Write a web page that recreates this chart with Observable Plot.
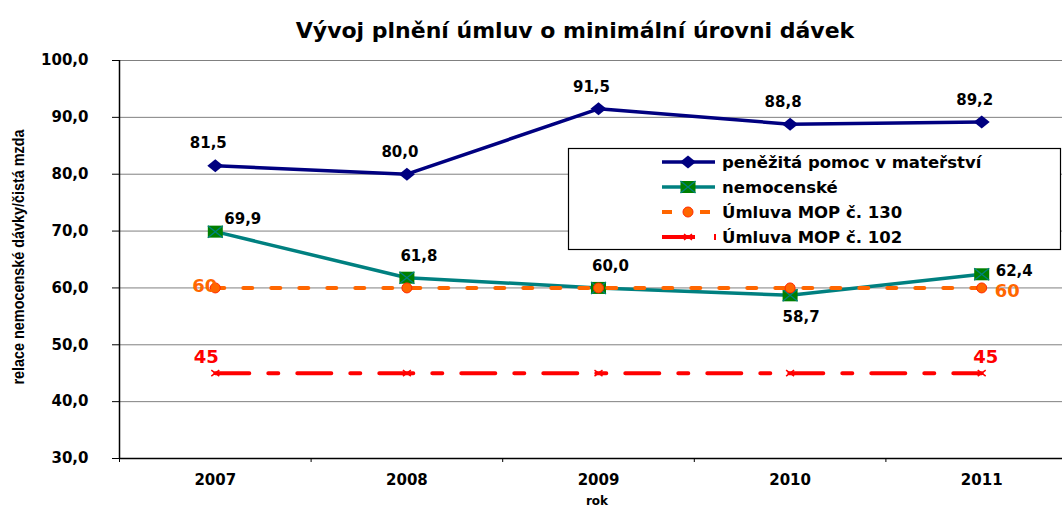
<!DOCTYPE html>
<html><head><meta charset="utf-8">
<script src="https://cdn.jsdelivr.net/npm/d3@7"></script>
<script src="https://cdn.jsdelivr.net/npm/@observablehq/plot@0.6"></script>
<style>
html,body{margin:0;padding:0;background:#fff;overflow:hidden}
</style></head><body><div id="chart"></div>
<script>
const years = [2007, 2008, 2009, 2010, 2011];
const penezita = [81.5, 80.0, 91.5, 88.8, 89.2];
const nemocenske = [69.9, 61.8, 60.0, 58.7, 62.4];
const mop130 = [60, 60, 60, 60, 60];
const mop102 = [45, 45, 45, 45, 45];
const yTicks = [30, 40, 50, 60, 70, 80, 90, 100];
const seriesNames = ["peněžitá pomoc v mateřství", "nemocenské", "Úmluva MOP č. 130", "Úmluva MOP č. 102"];
const title = "Vývoj plnění úmluv o minimální úrovni dávek";
const yLabel = "relace nemocenské dávky/čistá mzda";
const xLabel = "rok";

const rows = years.map((year, i) => ({year, pen: penezita[i], nem: nemocenske[i], m130: mop130[i], m102: mop102[i]}));
const boundaries = [years[0] - 0.5, ...years.map(y => y + 0.5)];
const fmt = v => v.toFixed(1).replace(".", ",");

const FONT = "DejaVu Sans, Verdana, sans-serif";
const NAVY = "#000080", TEAL = "#008080", GREEN = "#008000", ORANGE = "#FF6600", RED = "#FF0000";

const wideDiamond = {draw(ctx) { ctx.moveTo(-8, 0); ctx.lineTo(0, -6.5); ctx.lineTo(8, 0); ctx.lineTo(0, 6.5); ctx.closePath(); }};
const rectSym = {draw(ctx) { ctx.moveTo(-7.5, -6); ctx.lineTo(7.5, -6); ctx.lineTo(7.5, 6); ctx.lineTo(-7.5, 6); ctx.closePath(); }};
const rectCross = {draw(ctx) { ctx.moveTo(-7.5, -6); ctx.lineTo(7.5, 6); ctx.moveTo(7.5, -6); ctx.lineTo(-7.5, 6); }};
const xSym = {draw(ctx) { ctx.moveTo(-4, -3); ctx.lineTo(4, 3); ctx.moveTo(4, -3); ctx.lineTo(-4, 3); }};

const first = rows.filter((d, i) => i === 0);
const last = rows.filter((d, i) => i === rows.length - 1);
const lbl = {fill: "black", fontSize: 15, fontWeight: "bold", fontFamily: FONT};

const plot = Plot.plot({
  width: 1062,
  height: 506,
  marginTop: 60,
  marginBottom: 48,
  marginLeft: 119,
  marginRight: 0,
  style: {fontFamily: FONT, background: "white", overflow: "hidden"},
  x: {domain: [boundaries[0], boundaries[boundaries.length - 1]], range: [119, 1077]},
  y: {domain: [30, 100]},
  marks: [
    Plot.ruleY(yTicks.filter(d => d > 30), {stroke: "#808080", strokeWidth: 1}),
    Plot.ruleY([30], {stroke: "black", strokeWidth: 1.5}),
    Plot.ruleX([boundaries[0]], {stroke: "black", strokeWidth: 1.5}),
    Plot.axisY({ticks: yTicks, tickSize: 7, tickPadding: 24, tickFormat: fmt, fontSize: 15, fontWeight: "bold", stroke: "black", label: null}),
    Plot.axisX({ticks: years, tickSize: 0, tickPadding: 16, tickFormat: d => String(d), fontSize: 15, fontWeight: "bold", label: null}),
    Plot.axisX({ticks: boundaries, tickSize: 4, tickFormat: () => "", label: null}),
    // series lines
    Plot.line(rows, {x: "year", y: "pen", stroke: NAVY, strokeWidth: 3.5}),
    Plot.dot(rows, {x: "year", y: "pen", symbol: wideDiamond, fill: NAVY, r: 6}),
    Plot.line(rows, {x: "year", y: "nem", stroke: TEAL, strokeWidth: 3.5}),
    Plot.dot(rows, {x: "year", y: "nem", symbol: rectSym, fill: GREEN, r: 6}),
    Plot.dot(rows, {x: "year", y: "nem", symbol: rectCross, stroke: TEAL, strokeWidth: 1.3, r: 6}),
    Plot.line(rows, {x: "year", y: "m130", stroke: ORANGE, strokeWidth: 4, strokeDasharray: "9,19"}),
    Plot.dot(rows, {x: "year", y: "m130", symbol: "circle", r: 5, fill: ORANGE, stroke: "#FF2A00", strokeWidth: 1}),
    Plot.line(rows, {x: "year", y: "m102", stroke: RED, strokeWidth: 4, strokeDasharray: "34,19,10,19"}),
    Plot.dot(rows, {x: "year", y: "m102", symbol: xSym, stroke: RED, strokeWidth: 1.5, r: 4}),
    // value labels
    Plot.text(rows, {x: "year", y: "pen", text: d => fmt(d.pen), dx: -7, dy: -22, ...lbl}),
    Plot.text(rows.filter((d, i) => i === 0), {x: "year", y: "nem", text: d => fmt(d.nem), dx: 9, dy: -12, textAnchor: "start", ...lbl}),
    Plot.text(rows.filter((d, i) => i === 1 || i === 2), {x: "year", y: "nem", text: d => fmt(d.nem), dx: 12, dy: -22, ...lbl}),
    Plot.text(rows.filter((d, i) => i === 3), {x: "year", y: "nem", text: d => fmt(d.nem), dx: 11, dy: 22, ...lbl}),
    Plot.text(last, {x: "year", y: "nem", text: d => fmt(d.nem), dx: 14, dy: -3, textAnchor: "start", ...lbl}),
    Plot.text(first, {x: "year", y: "m130", text: d => String(d.m130), dx: 2, dy: -2, textAnchor: "end", fill: ORANGE, fontSize: 18, fontWeight: "bold", fontFamily: FONT}),
    Plot.text(last, {x: "year", y: "m130", text: d => String(d.m130), dx: 13, dy: 3, textAnchor: "start", fill: ORANGE, fontSize: 18, fontWeight: "bold", fontFamily: FONT}),
    Plot.text(first, {x: "year", y: "m102", text: d => String(d.m102), dx: -9, dy: -16, fill: RED, fontSize: 18, fontWeight: "bold", fontFamily: FONT}),
    Plot.text(last, {x: "year", y: "m102", text: d => String(d.m102), dx: 4, dy: -16, fill: RED, fontSize: 18, fontWeight: "bold", fontFamily: FONT}),
    // titles
    Plot.text([title], {frameAnchor: "top", dy: -38, fontSize: 22, fontWeight: "bold", fontFamily: FONT, fill: "black", dx: -16}),
    Plot.text([xLabel], {frameAnchor: "bottom", dy: 46, dx: 6, fontSize: 12, fontWeight: "bold", fontFamily: FONT, fill: "black"})
  ]
});
document.getElementById("chart").appendChild(plot);

const svg = d3.select(plot);
// y-axis title in the reference's narrow lettering
svg.append("text")
  .attr("transform", "translate(18,257) rotate(-90)")
  .attr("x", -127.5)
  .attr("dy", "0.36em")
  .attr("text-anchor", "start")
  .attr("font-family", "Liberation Sans, Arial, sans-serif")
  .attr("font-size", 17)
  .attr("font-weight", "bold")
  .attr("fill", "black")
  .attr("textLength", 255)
  .attr("lengthAdjust", "spacingAndGlyphs")
  .text(yLabel);

// legend box drawn inside the svg
const lg = svg.append("g").attr("font-family", FONT).attr("font-size", 16.5).attr("font-weight", "bold").attr("text-anchor", "start");
lg.append("rect").attr("x", 568.5).attr("y", 148.5).attr("width", 492).attr("height", 101).attr("fill", "white").attr("stroke", "black").attr("stroke-width", 1.2);
const rowY = [162, 187, 212, 237];
lg.append("line").attr("x1", 662).attr("x2", 715).attr("y1", rowY[0]).attr("y2", rowY[0]).attr("stroke", NAVY).attr("stroke-width", 3.5);
lg.append("path").attr("d", "M-8,0L0,-6.5L8,0L0,6.5Z").attr("transform", `translate(688,${rowY[0]})`).attr("fill", NAVY);
lg.append("line").attr("x1", 662).attr("x2", 715).attr("y1", rowY[1]).attr("y2", rowY[1]).attr("stroke", TEAL).attr("stroke-width", 3.5);
lg.append("rect").attr("x", 680.5).attr("y", rowY[1] - 6).attr("width", 15).attr("height", 12).attr("fill", GREEN);
lg.append("path").attr("d", "M-7.5,-6L7.5,6M7.5,-6L-7.5,6").attr("transform", `translate(688,${rowY[1]})`).attr("stroke", TEAL).attr("stroke-width", 1.3);
lg.append("line").attr("x1", 662).attr("x2", 672).attr("y1", rowY[2]).attr("y2", rowY[2]).attr("stroke", ORANGE).attr("stroke-width", 4);
lg.append("line").attr("x1", 700).attr("x2", 710).attr("y1", rowY[2]).attr("y2", rowY[2]).attr("stroke", ORANGE).attr("stroke-width", 4);
lg.append("circle").attr("cx", 688).attr("cy", rowY[2]).attr("r", 5).attr("fill", ORANGE).attr("stroke", "#FF2A00");
lg.append("line").attr("x1", 662).attr("x2", 695).attr("y1", rowY[3]).attr("y2", rowY[3]).attr("stroke", RED).attr("stroke-width", 4);
lg.append("path").attr("d", "M-4,-3L4,3M4,-3L-4,3").attr("transform", `translate(688,${rowY[3]})`).attr("stroke", RED).attr("stroke-width", 1.5);
lg.append("line").attr("x1", 715).attr("x2", 715).attr("y1", rowY[3] - 3).attr("y2", rowY[3] + 3).attr("stroke", RED).attr("stroke-width", 2);
seriesNames.forEach((name, i) => {
  lg.append("text").attr("x", 722).attr("y", rowY[i]).attr("dy", "0.36em").attr("fill", "black").attr("text-anchor", "start").text(name);
});
</script></body></html>
